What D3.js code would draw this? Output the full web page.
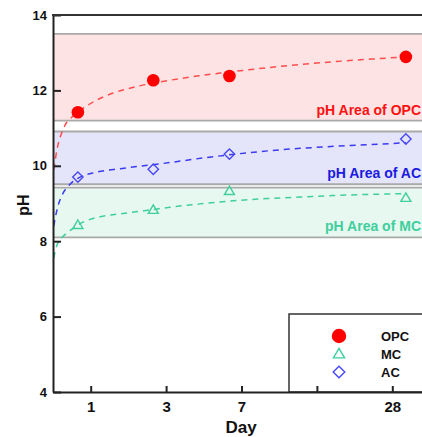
<!DOCTYPE html>
<html><head><meta charset="utf-8">
<script src="https://cdn.jsdelivr.net/npm/d3@7"></script>
<style>
body{margin:0;background:#fff}
svg{display:block}
text{font-family:Arial,"Liberation Sans",sans-serif;font-weight:bold}
</style>
</head><body><svg id="c" width="422" height="437"></svg>
<script>
// ---- data ----
const xTickPos = [1, 2, 3, 4, 5];
const xTickLabels = ["1", "3", "7", "", "28"];
const yTicks = [4, 6, 8, 10, 12, 14];
const samplePos = [0.83, 1.83, 2.84, 5.18];
const opcPH = [11.42, 12.27, 12.38, 12.89];
const mcPH = [8.43, 8.83, 9.33, 9.15];
const acPH = [9.70, 9.91, 10.31, 10.71];

const bandNames = ["OPC", "AC", "MC"];
const bandLabels = ["pH Area of OPC", "pH Area of AC", "pH Area of MC"];
const bandLow = [11.20, 9.51, 8.10];
const bandHigh = [13.50, 10.91, 9.42];

// trend lines
const opcTrendPos = [0.51, 0.56, 0.62, 0.66, 0.75, 0.83, 1.03, 1.30, 1.65, 2.05, 2.41, 2.72, 3.02, 3.48, 4.09, 4.72, 5.18];
const opcTrendPH  = [9.90, 10.50, 10.90, 11.08, 11.29, 11.42, 11.69, 11.93, 12.12, 12.27, 12.38, 12.46, 12.53, 12.63, 12.74, 12.83, 12.89];
const acTrendPos = [0.51, 0.53, 0.57, 0.63, 0.72, 0.84, 1.03, 1.42, 1.95, 2.54, 3.11, 3.55, 4.00, 4.44, 4.88, 5.18];
const acTrendPH  = [8.40, 8.62, 8.96, 9.26, 9.50, 9.68, 9.81, 9.93, 10.06, 10.22, 10.35, 10.43, 10.49, 10.54, 10.58, 10.61];
const mcTrendPos = [0.51, 0.55, 0.62, 0.70, 0.83, 0.99, 1.16, 1.45, 1.68, 2.05, 2.45, 2.89, 3.34, 3.78, 4.21, 4.66, 5.18];
const mcTrendPH  = [7.55, 7.88, 8.10, 8.24, 8.43, 8.58, 8.66, 8.74, 8.80, 8.90, 8.99, 9.07, 9.13, 9.17, 9.21, 9.24, 9.26];

const legendNames = ["OPC", "MC", "AC"];

// ---- styles ----
const col = {
  OPC: {mark: "#ff0000", line: "#ff4d4d", fill: "#fde3e3", text: "#ff1111"},
  AC:  {mark: "#4848f8", line: "#3a3af0", fill: "#e4e4fa", text: "#1a1ae0"},
  MC:  {mark: "#3fcf9c", line: "#3fcf9c", fill: "#e7f8f1", text: "#3fcf9c"}
};

const svg = d3.select("#c");
const L = 53, R = 430, T = 15, B = 392;
const x = d3.scaleLinear().domain([0.5, 5.5]).range([L, R]);
const y = d3.scaleLinear().domain([4, 14]).range([B, T]);

svg.append("defs").append("clipPath").attr("id", "clip")
  .append("rect").attr("x", L).attr("y", T).attr("width", R - L).attr("height", B - T);

const plot = svg.append("g").attr("clip-path", "url(#clip)");

// bands
bandNames.forEach((n, i) => {
  plot.append("rect")
    .attr("x", L).attr("width", R - L)
    .attr("y", y(bandHigh[i])).attr("height", y(bandLow[i]) - y(bandHigh[i]))
    .attr("fill", col[n].fill);
  [bandHigh[i], bandLow[i]].forEach(v => {
    plot.append("line").attr("x1", L).attr("x2", R)
      .attr("y1", y(v)).attr("y2", y(v))
      .attr("stroke", "#a9a9a9").attr("stroke-width", 1.8);
  });
  svg.append("text")
    .attr("x", 421).attr("y", y(bandLow[i]) - 6)
    .attr("text-anchor", "end")
    .attr("font-size", 14)
    .attr("fill", col[n].text)
    .text(bandLabels[i]);
});

// trend lines
const line = d3.line().x(d => x(d[0])).y(d => y(d[1])).curve(d3.curveMonotoneX);
[["OPC", opcTrendPos, opcTrendPH], ["AC", acTrendPos, acTrendPH], ["MC", mcTrendPos, mcTrendPH]]
  .forEach(([n, px, py]) => {
    plot.append("path")
      .datum(px.map((p, i) => [p, py[i]]))
      .attr("d", line)
      .attr("fill", "none")
      .attr("stroke", col[n].line)
      .attr("stroke-width", 1.5)
      .attr("stroke-dasharray", "6,5");
  });

// markers
function triPath(s) { return `M0,${-5*s}L${5*s},${3.5*s}L${-5*s},${3.5*s}Z`; }
function diaPath(s) { return `M0,${-5.2*s}L${5.2*s},0L0,${5.2*s}L${-5.2*s},0Z`; }

function drawMarker(g, n, cx, cy, s) {
  if (n === "OPC") {
    g.append("circle").attr("cx", cx).attr("cy", cy).attr("r", 6.3 * s).attr("fill", col.OPC.mark);
  } else if (n === "MC") {
    g.append("path").attr("d", triPath(s)).attr("transform", `translate(${cx},${cy})`)
      .attr("fill", "none").attr("stroke", col.MC.mark).attr("stroke-width", 1.4);
  } else {
    g.append("path").attr("d", diaPath(s)).attr("transform", `translate(${cx},${cy})`)
      .attr("fill", "none").attr("stroke", col.AC.mark).attr("stroke-width", 1.4);
  }
}
const mg = svg.append("g");
samplePos.forEach((p, i) => {
  drawMarker(mg, "MC", x(p), y(mcPH[i]), 1);
  drawMarker(mg, "AC", x(p), y(acPH[i]), 1);
  drawMarker(mg, "OPC", x(p), y(opcPH[i]), 1);
});

// legend
svg.append("rect").attr("x", 289).attr("y", 314).attr("width", 200).attr("height", B - 314)
  .attr("fill", "#fff").attr("stroke", "#333").attr("stroke-width", 1.5);
legendNames.forEach((n, i) => {
  const cy = 336 + i * 18;
  drawMarker(svg, n, 339, cy, n === "OPC" ? 1.15 : 1.12);
  svg.append("text").attr("x", 381).attr("y", cy).attr("dy", "0.36em")
    .attr("font-size", 13).attr("fill", "#111").text(n);
});

// axes
const yAxis = d3.axisLeft(y).tickValues(yTicks).tickSizeInner(-8).tickSizeOuter(0).tickPadding(6);
const gy = svg.append("g").attr("transform", `translate(${L},0)`).call(yAxis);
gy.selectAll("text").attr("font-size", 13).attr("fill", "#111");

const xAxis = d3.axisBottom(x).tickValues(xTickPos).tickFormat((d, i) => xTickLabels[i])
  .tickSizeInner(-6).tickSizeOuter(0).tickPadding(9);
const gx = svg.append("g").attr("transform", `translate(0,${B})`).call(xAxis);
gx.selectAll("text").attr("font-size", 15).attr("fill", "#111");

[gx, gy].forEach(g => {
  g.selectAll(".domain").attr("stroke", "#222").attr("stroke-width", 2);
  g.selectAll(".tick line").attr("stroke", "#222").attr("stroke-width", 2);
  g.attr("font-family", null);
});

// top frame
svg.append("line").attr("x1", L - 1).attr("x2", R).attr("y1", T).attr("y2", T)
  .attr("stroke", "#333").attr("stroke-width", 2);

// axis titles
svg.append("text").attr("x", 241).attr("y", 433).attr("text-anchor", "middle")
  .attr("font-size", 17).attr("fill", "#111").text("Day");
svg.append("text").attr("transform", "translate(29,205) rotate(-90)")
  .attr("text-anchor", "middle").attr("font-size", 16).attr("fill", "#111").text("pH");
</script>
</body></html>
